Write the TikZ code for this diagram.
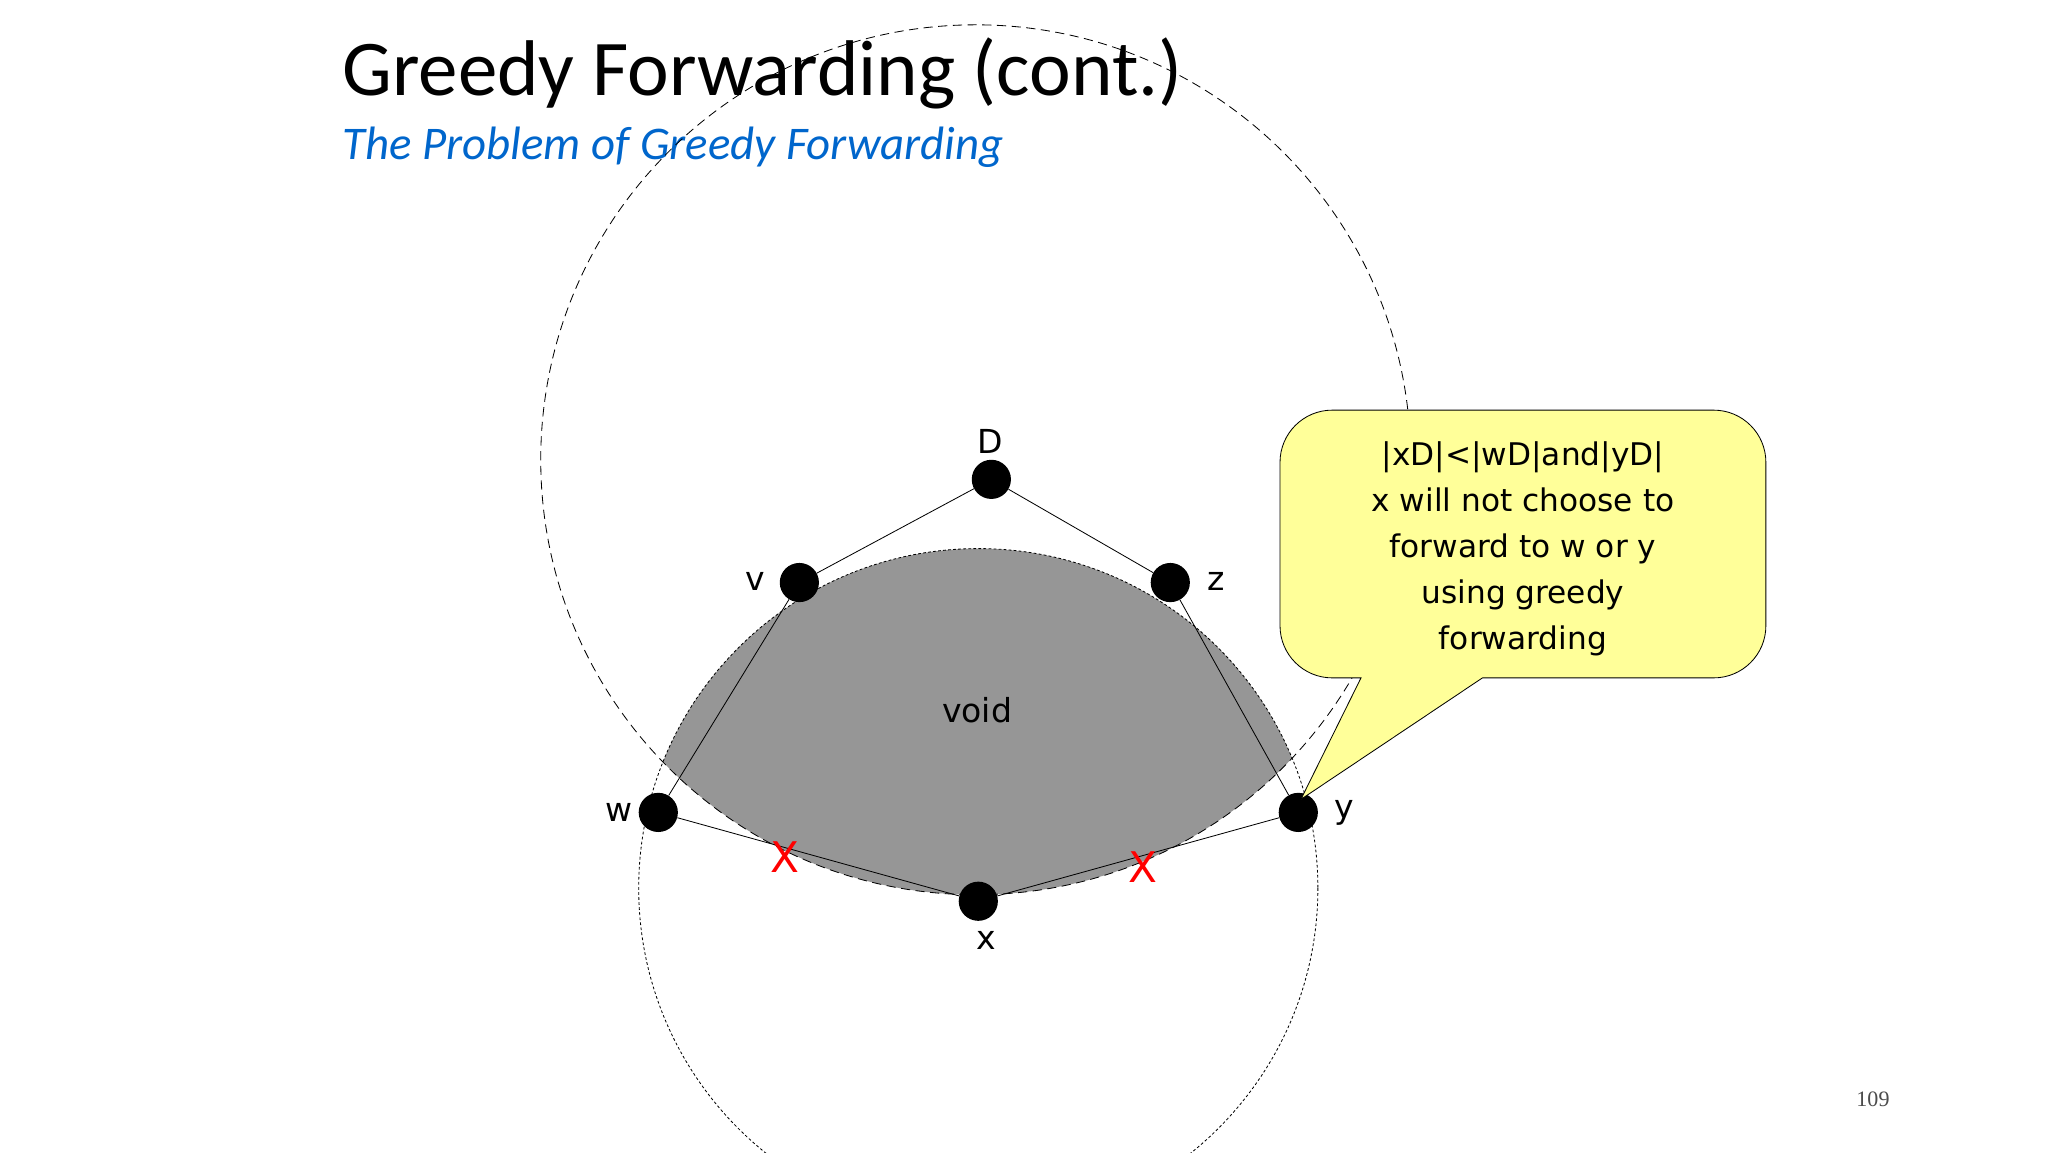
\documentclass[tikz,border=0pt]{standalone}
\usepackage{fontspec}
\setmainfont{DejaVu Sans}
\newfontfamily\titlefont{Carlito}
\newfontfamily\numfont{Liberation Serif}
\definecolor{voidgray}{RGB}{150,150,150}
\definecolor{subblue}{RGB}{0,102,204}
\definecolor{callout}{RGB}{255,255,153}
\begin{document}
\begin{tikzpicture}[x=0.05cm,y=-0.05cm,
  dot/.style={circle,fill=black,inner sep=0pt,minimum size=1.5cm},
  lbl/.style={font=\fontsize{36}{40}\selectfont},
  edge/.style={line width=0.9pt},
  cross/.style={text=red,font=\fontsize{46}{50}\selectfont}]
\useasboundingbox (0,0) rectangle (1568,882);
\fill[white] (0,0) rectangle (1568,882);
% titles
\node[anchor=base west,inner sep=0pt,font=\titlefont\fontsize{86}{90}\selectfont] (title) at (262,73) {Greedy Forwarding (cont.)};
\node[anchor=base west,inner sep=0pt,text=subblue,font=\titlefont\itshape\fontsize{51}{55}\selectfont] (sub) at (262,122) {The Problem of Greedy Forwarding};
% void region (lens)
\begin{scope}
  \clip (747,352) circle (333);
  \fill[voidgray] (749,680) circle (260);
\end{scope}
\draw[dash pattern=on 10pt off 6pt,line width=0.9pt] (747,352) circle (333);
\draw[dash pattern=on 3pt off 2.5pt,line width=0.9pt] (749,680) circle (260);
% nodes
\node[dot] (D) at (759,367) {};
\node[dot] (v) at (612,446) {};
\node[dot] (z) at (896,446) {};
\node[dot] (w) at (504,622) {};
\node[dot] (y) at (994,622) {};
\node[dot] (x) at (749,690) {};
\draw[edge] (D) -- (v) (D) -- (z) (v) -- (w) (z) -- (y) (w) -- (x) (x) -- (y);
\node[lbl] (lD) at (758,338) {D};
\node[lbl] (lv) at (578,445) {v};
\node[lbl] (lz) at (931,445) {z};
\node[lbl] (lw) at (474,622) {w};
\node[lbl] (ly) at (1029,622) {y};
\node[lbl] (lx) at (755,720) {x};
\node[lbl] (void) at (748,544) {void};
\node[cross] (x1) at (601,656) {X};
\node[cross] (x2) at (875,664) {X};
% callout
\coordinate (tip) at (996,612);
\draw[fill=callout,line width=0.9pt] (1042,519) [rounded corners=2cm] -- (980,519) -- (980,314) -- (1352,314) -- (1352,519) [sharp corners] -- (1135,519) -- (tip) -- cycle;
\node[align=center,font=\fontsize{34}{50}\selectfont] (note) at (1166,420) {|xD|<|wD|and|yD|\\x will not choose to\\forward to w or y\\using greedy\\forwarding};
\node[text=black!70,font=\numfont\fontsize{24}{28}\selectfont] (num) at (1434,842) {109};
\end{tikzpicture}
\end{document}
